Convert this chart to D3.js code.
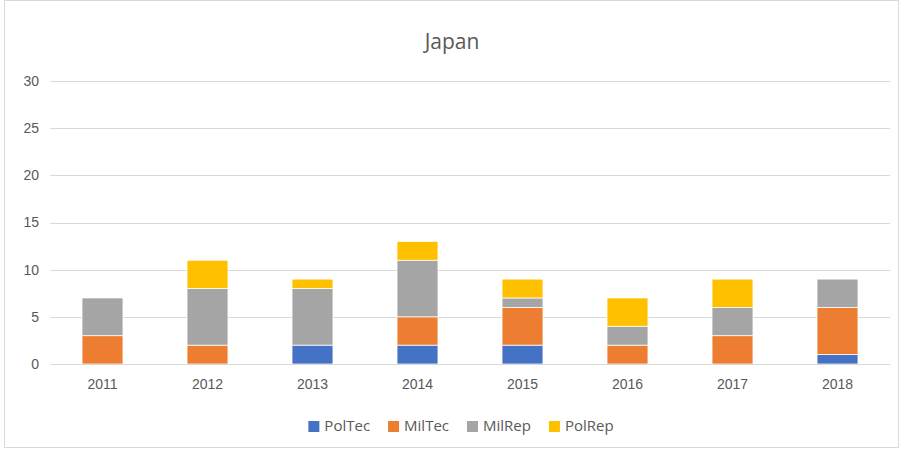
<!DOCTYPE html>
<html>
<head>
<meta charset="utf-8">
<script src="https://cdn.jsdelivr.net/npm/d3@7"></script>
<style>
  body { margin: 0; background: #fff; }
  svg { font-family: "Open Sans", "Noto Sans", sans-serif; }
</style>
</head>
<body>
<svg width="904" height="451"></svg>
<script>
// Data
const years = ["2011", "2012", "2013", "2014", "2015", "2016", "2017", "2018"];
const seriesNames = ["PolTec", "MilTec", "MilRep", "PolRep"];
const polTec = [0, 0, 2, 2, 2, 0, 0, 1];
const milTec = [3, 2, 0, 3, 4, 2, 3, 5];
const milRep = [4, 6, 6, 6, 1, 2, 3, 3];
const polRep = [0, 3, 1, 2, 2, 3, 3, 0];
const yTicks = [0, 5, 10, 15, 20, 25, 30];

const colors = ["#4472C4", "#ED7D31", "#A5A5A5", "#FFC000"];

const rows = years.map((y, i) => ({
  year: y, PolTec: polTec[i], MilTec: milTec[i], MilRep: milRep[i], PolRep: polRep[i]
}));

const svg = d3.select("svg");

// chart border
svg.append("rect")
  .attr("x", 4.5).attr("y", 0.5)
  .attr("width", 894).attr("height", 447)
  .attr("fill", "none")
  .attr("stroke", "#d9d9d9");

const margin = { left: 50, right: 890, top: 81, bottom: 364 };

const x = d3.scaleBand().domain(years).range([margin.left, margin.right]).paddingInner(0.61).paddingOuter(0.305);
const y = d3.scaleLinear().domain([0, 30]).range([margin.bottom, margin.top]);

// gridlines
svg.append("g")
  .selectAll("line")
  .data(yTicks)
  .enter()
  .append("line")
  .attr("x1", margin.left).attr("x2", margin.right)
  .attr("y1", d => Math.round(y(d)) + 0.5).attr("y2", d => Math.round(y(d)) + 0.5)
  .attr("stroke", "#d9d9d9")
  .attr("stroke-width", 1);

// y axis labels
const yAxis = d3.axisLeft(y).tickValues(yTicks).tickSize(0).tickPadding(11);
const yg = svg.append("g").attr("transform", `translate(${margin.left},0)`).call(yAxis);
yg.select(".domain").remove();
yg.selectAll("text").attr("fill", "#595959").style("font-size", "14px");

// stacked bars
const stack = d3.stack().keys(seriesNames);
const layers = stack(rows);

svg.append("g")
  .selectAll("g")
  .data(layers)
  .enter()
  .append("g")
  .attr("fill", (d, i) => colors[i])
  .selectAll("rect")
  .data(d => d.filter(s => s[1] > s[0]))
  .enter()
  .append("rect")
  .attr("x", d => x(d.data.year))
  .attr("width", x.bandwidth())
  .attr("y", d => y(d[1]))
  .attr("height", d => y(d[0]) - y(d[1]))
  .attr("stroke", "#fff")
  .attr("stroke-width", 0.75);

// baseline
svg.append("line")
  .attr("x1", margin.left).attr("x2", margin.right)
  .attr("y1", margin.bottom + 0.5).attr("y2", margin.bottom + 0.5)
  .attr("stroke", "#d9d9d9");

// x axis labels
const xAxis = d3.axisBottom(x).tickSize(0).tickPadding(15);
const xg = svg.append("g").attr("transform", `translate(0,${margin.bottom})`).call(xAxis);
xg.select(".domain").remove();
xg.selectAll("text").attr("fill", "#595959").style("font-size", "14px");

// title
svg.append("text")
  .attr("x", 452).attr("y", 49)
  .attr("text-anchor", "middle")
  .attr("fill", "#595959")
  .style("font-size", "21px")
  .text("Japan");

// legend
const legend = svg.append("g");
const items = legend.selectAll("g")
  .data(seriesNames)
  .enter()
  .append("g");
items.append("rect")
  .attr("width", 11).attr("height", 11)
  .attr("y", -10)
  .attr("fill", (d, i) => colors[seriesNames.indexOf(d)]);
items.append("text")
  .attr("x", 16).attr("y", 0)
  .attr("fill", "#595959")
  .style("font-size", "15px")
  .text(d => d);

let offset = 0;
items.each(function() {
  const w = this.getBBox().width;
  d3.select(this).attr("transform", `translate(${offset},0)`);
  offset += w + 18;
});
const total = offset - 18;
legend.attr("transform", `translate(${461 - total / 2},431)`);
</script>
</body>
</html>
